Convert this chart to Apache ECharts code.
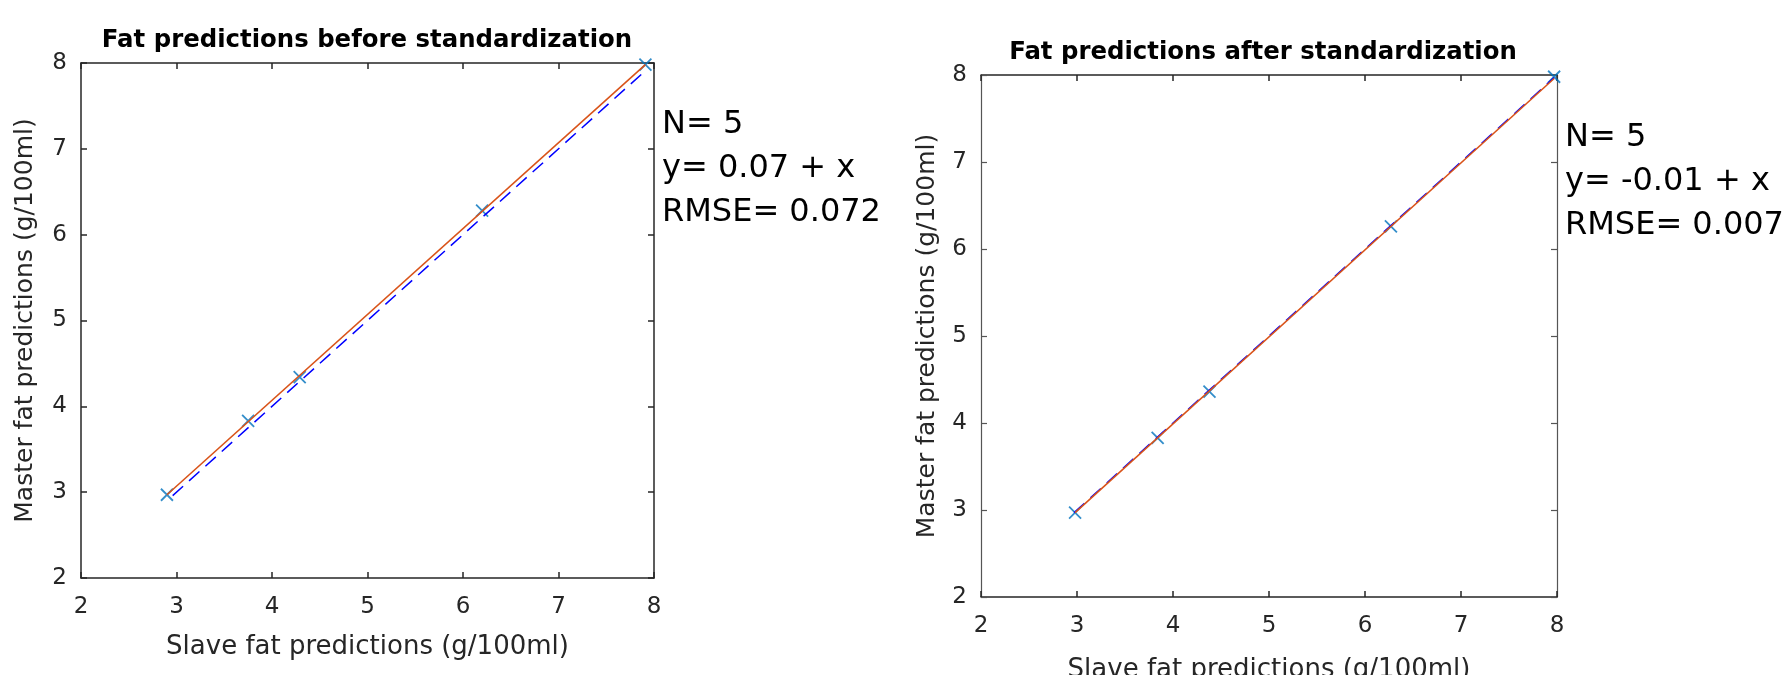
<!DOCTYPE html>
<html>
<head>
<meta charset="utf-8">
<script src="https://cdn.jsdelivr.net/npm/echarts@6/dist/echarts.min.js"></script>
<style>
  html, body { margin: 0; padding: 0; background: #fff; }
  #main { width: 1789px; height: 675px; }
</style>
</head>
<body>
<div id="main"></div>
<script>
// axis ticks (same on both panels)
var tickMin = 2, tickMax = 8, tickStep = 1;

// before standardization
var slaveBefore = [2.90, 3.75, 4.29, 6.20, 7.91];
var masterBefore = [2.97, 3.83, 4.34, 6.28, 7.98];
var fitBeforeX = [2.90, 7.91];
var fitBeforeY = [2.97, 7.98];
var idBefore = [2.96, 7.91];
var statsBefore = { n: 5, intercept: '0.07', rmse: '0.072' };

// after standardization
var slaveAfter = [2.98, 3.84, 4.38, 6.27, 7.97];
var masterAfter = [2.97, 3.83, 4.36, 6.26, 7.98];
var fitAfterX = [2.98, 7.97];
var fitAfterY = [2.97, 7.96];
var idAfter = [2.97, 7.97];
var statsAfter = { n: 5, intercept: '-0.01', rmse: '0.007' };

var titles = ['Fat predictions before standardization', 'Fat predictions after standardization'];
var xName = 'Slave fat predictions (g/100ml)';
var yName = 'Master fat predictions (g/100ml)';

var font = 'DejaVu Sans';
var axisColor = '#262626';

function pairs(xs, ys) {
  return xs.map(function (x, i) { return [x, ys[i]]; });
}

function xAxisFor(grid, pos, lineStyle, gap) {
  var main = pos === 'bottom';
  return {
    type: 'value', gridIndex: grid, position: pos,
    min: tickMin, max: tickMax, interval: tickStep,
    name: main ? xName : '', nameLocation: 'middle', nameGap: gap,
    nameTextStyle: { fontFamily: font, fontSize: 26, color: axisColor },
    axisLine: { show: true, onZero: false, lineStyle: lineStyle },
    axisTick: { show: true, inside: true, length: 6, lineStyle: lineStyle },
    axisLabel: { show: main, margin: 18, fontFamily: font, fontSize: 23, color: axisColor },
    splitLine: { show: false }
  };
}

function yAxisFor(grid, pos, lineStyle, gap) {
  var main = pos === 'left';
  return {
    type: 'value', gridIndex: grid, position: pos,
    min: tickMin, max: tickMax, interval: tickStep,
    name: main ? yName : '', nameLocation: 'middle', nameGap: gap,
    nameTextStyle: { fontFamily: font, fontSize: 25, color: axisColor },
    axisLine: { show: true, onZero: false, lineStyle: lineStyle },
    axisTick: { show: true, inside: true, length: 6, lineStyle: lineStyle },
    axisLabel: { show: main, margin: 14, fontFamily: font, fontSize: 23, color: axisColor },
    splitLine: { show: false }
  };
}

var leftLine = { color: axisColor, width: 1.5 };
var rightH = { color: axisColor, width: 1.5 };
var rightV = { color: '#555', width: 1.2 };

function panelSeries(xi, yi, sx, my, fx, fy, idl) {
  return [
    {
      type: 'scatter', xAxisIndex: xi, yAxisIndex: yi, z: 1,
      symbol: 'path://M0,0L10,10M10,0L0,10', symbolSize: 12,
      itemStyle: { color: 'none', borderColor: '#0072BD', borderWidth: 1.8 },
      data: pairs(sx, my)
    },
    {
      type: 'line', xAxisIndex: xi, yAxisIndex: yi, z: 2, showSymbol: false,
      lineStyle: { color: '#0000FF', width: 1.5, type: [14, 8] },
      data: pairs(idl, idl)
    },
    {
      type: 'line', xAxisIndex: xi, yAxisIndex: yi, z: 3, showSymbol: false,
      lineStyle: { color: '#D95319', width: 1.6 },
      data: pairs(fx, fy)
    }
  ];
}

function statText(x, ys, s) {
  var lines = ['N= ' + s.n, 'y= ' + s.intercept + ' + x', 'RMSE= ' + s.rmse];
  return lines.map(function (t, i) {
    return {
      type: 'text', x: x, y: ys[i],
      style: { text: t, font: '32px "DejaVu Sans"', fill: '#000', align: 'left', verticalAlign: 'middle' }
    };
  });
}

var chart = echarts.init(document.getElementById('main'));
var option = {
  animation: false,
  backgroundColor: '#fff',
  grid: [
    { left: 81, top: 63, width: 573, height: 515, outerBoundsMode: 'none' },
    { left: 981, top: 75, width: 576, height: 522, outerBoundsMode: 'none' }
  ],
  xAxis: [
    xAxisFor(0, 'bottom', leftLine, 56), xAxisFor(0, 'top', leftLine, 56),
    xAxisFor(1, 'bottom', rightH, 60), xAxisFor(1, 'top', rightH, 60)
  ],
  yAxis: [
    yAxisFor(0, 'left', leftLine, 43), yAxisFor(0, 'right', leftLine, 43),
    yAxisFor(1, 'left', rightV, 41), yAxisFor(1, 'right', rightV, 41)
  ],
  graphic: [
    {
      type: 'text', x: 367, y: 40.5,
      style: { text: titles[0], font: 'bold 24.4px "DejaVu Sans"', fill: '#000', align: 'center', verticalAlign: 'middle' }
    },
    {
      type: 'text', x: 1263, y: 53,
      style: { text: titles[1], font: 'bold 24.4px "DejaVu Sans"', fill: '#000', align: 'center', verticalAlign: 'middle' }
    }
  ].concat(statText(662, [124.7, 168.4, 213], statsBefore))
   .concat(statText(1565, [138.1, 181.4, 225.4], statsAfter)),
  series: panelSeries(0, 0, slaveBefore, masterBefore, fitBeforeX, fitBeforeY, idBefore)
    .concat(panelSeries(2, 2, slaveAfter, masterAfter, fitAfterX, fitAfterY, idAfter))
};
chart.setOption(option);
</script>
</body>
</html>
